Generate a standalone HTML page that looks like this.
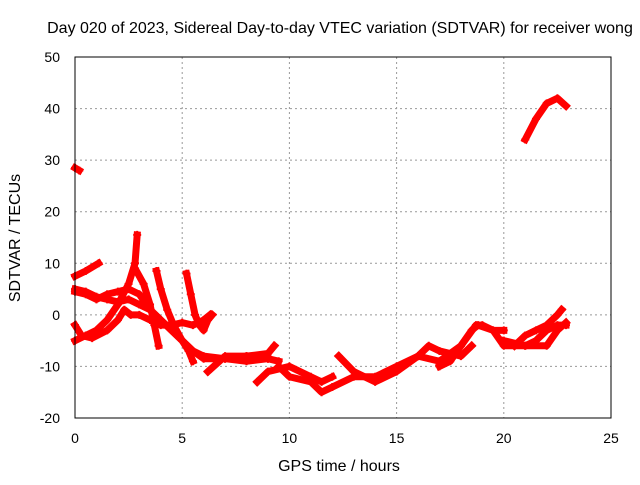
<!DOCTYPE html>
<html><head><meta charset="utf-8"><style>
body{margin:0;background:#fff}
svg{font-family:"Liberation Sans",sans-serif;font-size:14px}
</style></head><body>
<svg id="chart" width="640" height="480">
<rect width="640" height="480" fill="#fff"/>
<text x="340" y="33" text-anchor="middle" font-size="16">Day 020 of 2023, Sidereal Day-to-day VTEC variation (SDTVAR) for receiver wong</text>
<g id="grid"></g>
<g id="series"></g>
<rect x="75" y="57" width="536" height="361" fill="none" stroke="#000"/>
<g id="ticks"></g>
<text x="339" y="471" text-anchor="middle" font-size="16">GPS time / hours</text>
<text transform="translate(20,238) rotate(-90)" text-anchor="middle" font-size="16">SDTVAR / TECUs</text>
</svg>
<script>
const xTicks=[0,5,10,15,20,25];
const yTicks=[-20,-10,0,10,20,30,40,50];
const tracks=[
[[0,28.5],[0.2,28]],
[[0,7.5],[0.5,8.5],[1.1,10]],
[[0,5],[0.5,4.5],[1,3.5],[1.5,3],[2,2.5],[2.5,3],[3,2],[3.5,1],[4,-1],[4.5,-3],[5,-5],[5.5,-7],[6,-8],[7,-8.5],[8,-9],[9,-8.5],[9.5,-9]],
[[0,-5],[0.5,-4],[1,-3],[1.5,-1],[2,2],[2.5,6],[2.8,10],[2.9,15.5]],
[[0,-2],[0.3,-4],[0.8,-4.5],[1.5,-3],[2,-1],[2.3,1],[2.6,0],[3,0],[3.5,-1],[4,-2],[4.5,-2],[5,-1.5],[5.5,-2],[6,-1],[6.3,0]],
[[0,4.5],[0.5,4],[1,3],[1.5,4],[2,4.5],[2.5,5],[3,4],[3.5,1],[4,-1],[4.5,-3],[5,-5],[5.5,-7],[6,-8.5],[7,-8.5],[8,-8],[9,-8.5]],
[[2.8,9],[3.2,6],[3.5,2],[3.7,-2],[3.9,-6]],
[[3.8,8.5],[4,5],[4.3,1],[4.6,-2],[5,-5],[5.3,-7],[5.5,-9]],
[[5.2,8],[5.4,4],[5.6,0],[5.8,-2],[6,-3],[6.2,-1],[6.4,0]],
[[6.2,-11],[7,-8],[8,-8],[9,-7.5],[9.3,-6]],
[[8.5,-13],[9,-11],[10,-10],[11,-12],[11.5,-13],[12,-12]],
[[9.5,-10],[10,-12],[11,-13],[11.5,-15],[12,-14],[13,-12],[14,-12],[15,-10],[16,-8],[17,-9],[18,-6],[18.7,-2],[19,-2],[19.5,-3],[20,-3]],
[[12.3,-8],[13,-11],[14,-13],[15,-11],[16,-8],[16.5,-6],[17,-7],[18,-8],[18.5,-6]],
[[17,-10],[17.5,-9],[18,-6],[18.5,-3],[18.8,-2],[19.5,-3],[20,-6],[21,-6],[21.5,-5],[22,-3],[22.5,-2],[22.9,-2]],
[[20,-5],[21,-6],[22,-6],[22.5,-3],[22.9,-1.5]],
[[20.5,-6],[21,-4],[21.5,-3],[22,-2],[22.5,0],[22.7,1]],
[[21,34],[21.5,38],[22,41],[22.5,42],[22.9,40.5]]
];
const X=v=>75+v*536/25, Y=v=>418-(v+20)*361/70;
const NS="http://www.w3.org/2000/svg";
const grid=document.getElementById('grid'),ticks=document.getElementById('ticks'),ser=document.getElementById('series');
function mk(tag,attrs,parent){const e=document.createElementNS(NS,tag);for(const k in attrs)e.setAttribute(k,attrs[k]);parent.appendChild(e);return e;}
xTicks.forEach(t=>{
 if(t>0&&t<25){const l=mk('line',{x1:X(t),x2:X(t),y1:57,y2:418,stroke:'#999','stroke-dasharray':'2,3'},grid);
 
 }
 const tx=mk('text',{x:X(t),y:443,'text-anchor':'middle'},ticks);tx.textContent=t;
 
 
});
yTicks.forEach(t=>{
 if(t>-20&&t<50){const l=mk('line',{x1:75,x2:611,y1:Y(t),y2:Y(t),stroke:'#999','stroke-dasharray':'2,3'},grid);
 
 }
 const tx=mk('text',{x:60,y:Y(t)+5,'text-anchor':'end'},ticks);tx.textContent=t;
 
 
});
tracks.forEach(tr=>{
 const p=mk('polyline',{points:tr.map(d=>X(d[0])+','+Y(d[1])).join(' '),fill:'none',stroke:'#f00','stroke-width':7,'stroke-linejoin':'round','stroke-linecap':'square'},ser);
 
 
 tr.forEach(d=>{const m=mk('path',{d:`M${X(d[0])-4},${Y(d[1])}h8M${X(d[0])},${Y(d[1])-4}v8`,stroke:'#f00','stroke-width':2},ser);
 
 });
});
</script>
</body></html>
